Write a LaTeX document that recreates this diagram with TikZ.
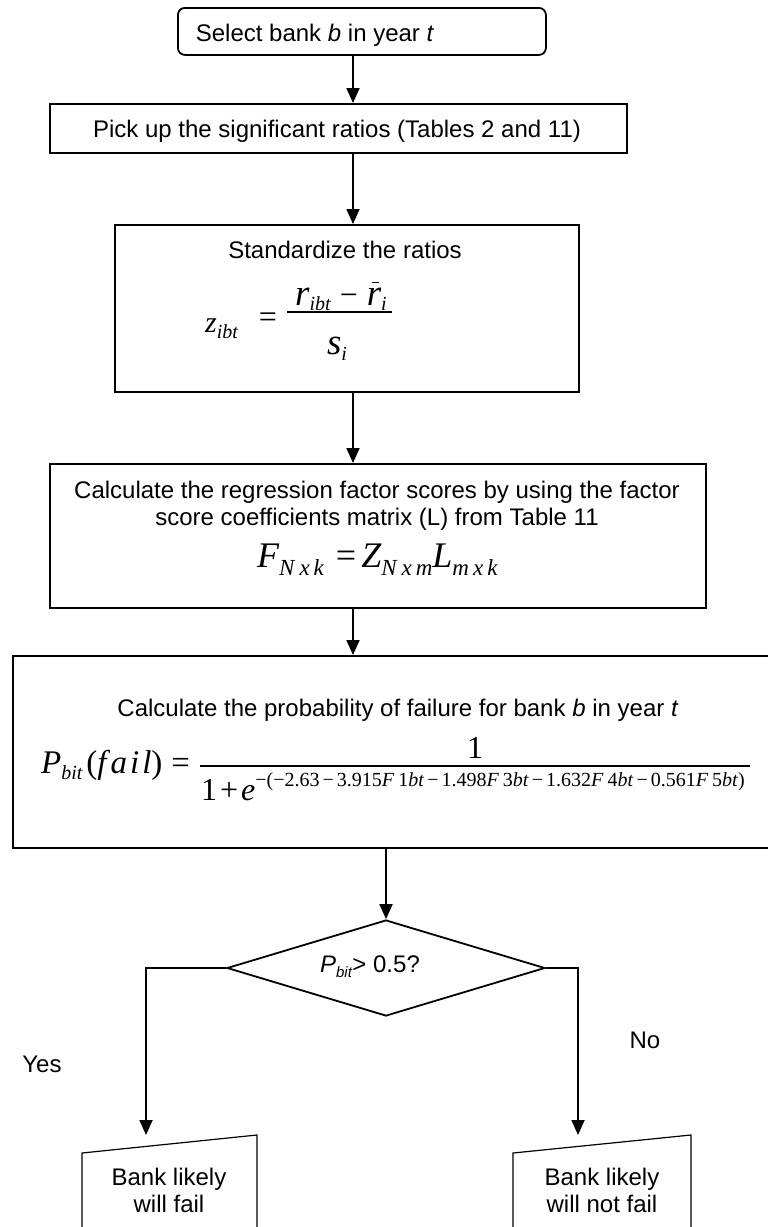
\documentclass[tikz,border=0pt]{standalone}
\usepackage{fontspec}
\setmainfont{Liberation Sans}
\newfontfamily\tnr{Liberation Serif}
\usetikzlibrary{shapes.geometric,arrows.meta}
\newcommand\fsz[1]{\fontsize{#1}{#1}\selectfont}
\newcommand\expmin{\hspace{3pt}−\hspace{3pt}}
\newcommand\expF[1]{\textit{F}\hspace{4pt}#1\textit{bt}}
\begin{document}
\begin{tikzpicture}[x=1pt,y=-1pt,
  box/.style={draw,line width=1.8pt,inner sep=0,anchor=north west},
  txt/.style={inner sep=0,anchor=base,font=\fsz{24}},
  frm/.style={inner sep=0,anchor=base west,font=\tnr},
  arr/.style={line width=1.8pt,-{Triangle[length=15pt,width=13pt]}},
  fracbar/.style={line width=1.3pt}]
\useasboundingbox (0,0) rectangle (768,1227);
\fill[white] (0,0) rectangle (768,1227);
\clip (0,0) rectangle (768,1227);

% boxes
\node[box,rounded corners=7pt,minimum width=368pt,minimum height=47pt] (top) at (177,7) {};
\node[box,minimum width=577pt,minimum height=49pt] (b2) at (49,103) {};
\node[box,minimum width=464pt,minimum height=167pt] (b3) at (114,224) {};
\node[box,minimum width=656pt,minimum height=144pt] (b4) at (49,463) {};
\node[box,minimum width=790pt,minimum height=192pt] (b5) at (12,655) {};
\node[draw,diamond,line width=1.8pt,minimum width=318pt,minimum height=96pt,inner sep=0] (dia) at (386,968) {};

% texts
\node[txt] (t1) at (315,41) {Select bank \textit{b} in year \textit{t}};
\node[txt] (t2) at (337,137) {Pick up the significant ratios (Tables 2 and 11)};
\node[txt] (t3) at (345,258) {Standardize the ratios};
\node[txt] (t4a) at (377,498) {Calculate the regression factor scores by using the factor};
\node[txt] (t4b) at (377,525) {score coefficients matrix (L) from Table 11};
\node[txt] (t5) at (398,716) {Calculate the probability of failure for bank \textit{b} in year \textit{t}};
\node[txt] (q) at (370,972) {\textit{P}\raisebox{-5pt}{\fsz{15}\textit{bit}}> 0.5?};
\node[txt] (yes) at (42,1072) {Yes};
\node[txt] (no) at (645,1048) {No};
\node[txt] (f1) at (169,1185) {Bank likely};
\node[txt] (f2) at (169,1212) {will fail};
\node[txt] (nf1) at (602,1185) {Bank likely};
\node[txt] (nf2) at (602,1212) {will not fail};

% formula 1
\node[frm] (z) at (205,332) {\fsz{30}\itshape z\raisebox{-6pt}{\fsz{20}ibt}};
\node[frm,anchor=base] (eq1) at (268,327) {\fsz{32}=};
\node[frm,anchor=base] (num1) at (341,305) {\fsz{37}\itshape r\raisebox{-5pt}{\fsz{20}ibt}\hspace{9pt}{\upshape\fsz{32}−}\hspace{9pt}\makebox[0pt][l]{\hspace{5pt}\raisebox{22pt}{\rule{7pt}{1pt}}}r\raisebox{-5pt}{\fsz{20}i}};
\draw[fracbar] (287,312) -- (392,312);
\node[frm,anchor=base] (den1) at (337,354) {\fsz{37}\itshape s\raisebox{-6pt}{\fsz{20}i}};

% formula 2
\node[frm] (F) at (257,567) {\itshape\fsz{36}F\raisebox{-8pt}{\fsz{23}N\hspace{5pt}x\hspace{4pt}k}\hspace{12pt}{\upshape =}\hspace{5pt}Z\raisebox{-8pt}{\fsz{23}N\hspace{5pt}x\hspace{4pt}m}L\raisebox{-8pt}{\fsz{23}m\hspace{4pt}x\hspace{4pt}k}};

% formula 3
\node[frm] (P) at (41,773) {\fsz{33}\itshape P\raisebox{-6pt}{\fsz{20}bit}\hspace{4pt}{\upshape(}f\hspace{4pt}a\hspace{3pt}i\hspace{3pt}l{\upshape)}\hspace{9pt}{\upshape=}};
\draw[fracbar] (200,766) -- (750,766);
\node[frm,anchor=base] (one) at (475,758) {\fsz{32}1};
\node[frm] (den3) at (201,800) {\fsz{32}1\hspace{3pt}+\hspace{3pt}\textit{e}\raisebox{14pt}{\fsz{20}−(−2.63\expmin 3.915\expF{1}\expmin 1.498\expF{3}\expmin 1.632\expF{4}\expmin 0.561\expF{5})}};

% connectors
\coordinate (ax) at (353,0);
\draw[arr] (top.south -| ax) -- (b2.north -| ax);
\draw[arr] (b2.south -| ax) -- (b3.north -| ax);
\draw[arr] (b3.south -| ax) -- (b4.north -| ax);
\draw[arr] (b4.south -| ax) -- (b5.north -| ax);
\draw[arr] (b5.south -| dia.north) -- (dia.north);
\coordinate (yesend) at (146,1135);
\coordinate (noend) at (578,1135);
\draw[arr] (dia.west) -| (yesend);
\draw[arr] (dia.east) -| (noend);

% output boxes (manual input shape, cut at page bottom)
\draw[line width=1.2pt] (82,1240) -- (82,1153) -- (257,1135) -- (257,1240);
\draw[line width=1.2pt] (513,1240) -- (513,1153) -- (691,1135) -- (691,1240);
\end{tikzpicture}
\end{document}
